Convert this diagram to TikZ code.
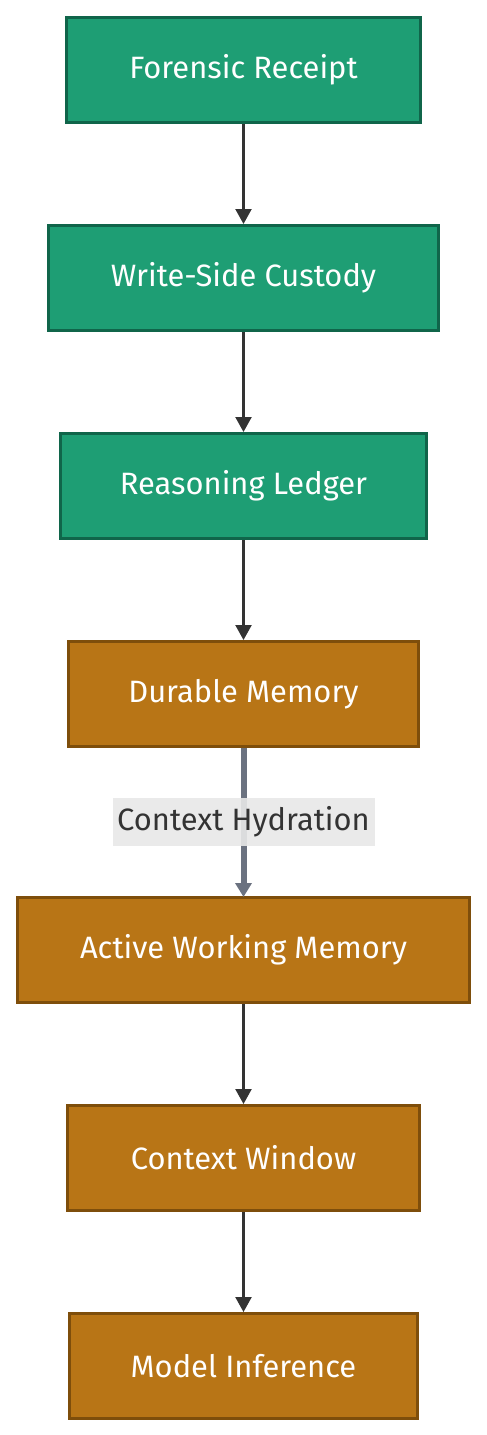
\documentclass[tikz,border=0pt]{standalone}
\usepackage{fontspec}
\setmainfont{Fira Sans}
\usetikzlibrary{positioning,arrows.meta}
\definecolor{tealfill}{HTML}{1E9E74}
\definecolor{tealline}{HTML}{10654A}
\definecolor{ochrefill}{HTML}{B87516}
\definecolor{ochreline}{HTML}{7E4E0B}
\definecolor{linkgray}{HTML}{333333}
\definecolor{hydgray}{HTML}{6B7280}
\definecolor{labelbg}{HTML}{E8E8E8}

\begin{document}
\begin{tikzpicture}[x=1bp,y=1bp,node distance=100bp]
\tikzstyle{every node}=[font=\fontsize{31}{36}\selectfont]
\tikzstyle{stage}=[draw,line width=3bp,minimum height=105bp,inner sep=0pt,text=white]
\tikzstyle{trail}=[stage,fill=tealfill,draw=tealline]
\tikzstyle{memory}=[stage,fill=ochrefill,draw=ochreline]
\tikzstyle{link}=[draw=linkgray,line width=2.2bp,-{Triangle[width=16bp,length=15bp]}]
\useasboundingbox (0,0) rectangle (487,-1435);
% audit trail
\node[trail,minimum width=354bp] (receipt) at (243.5,-70) {Forensic Receipt};
\node[trail,minimum width=389bp,below=of receipt] (custody) {Write-Side Custody};
\node[trail,minimum width=366bp,below=of custody] (ledger) {Reasoning Ledger};
% memory path
\node[memory,minimum width=350bp,below=of ledger] (durable) {Durable Memory};
\node[memory,minimum width=452bp,below=148bp of durable] (working) {Active Working Memory};
\node[memory,minimum width=352bp,below=of working] (window) {Context Window};
\node[memory,minimum width=348bp,below=of window] (inference) {Model Inference};

\draw[link] (receipt) -- (custody);
\draw[link] (custody) -- (ledger);
\draw[link] (ledger) -- (durable);
\draw[draw=hydgray,line width=6bp,-{Triangle[width=16bp,length=14bp]},shorten >=-1bp] (durable) -- (working)
  node[midway,fill=labelbg,fill opacity=0.9,text opacity=1,text=linkgray,minimum width=262bp,minimum height=48bp,inner sep=0pt] (hydration) {Context Hydration};
\draw[link] (working) -- (window);
\draw[link] (window) -- (inference);
\end{tikzpicture}
\end{document}
